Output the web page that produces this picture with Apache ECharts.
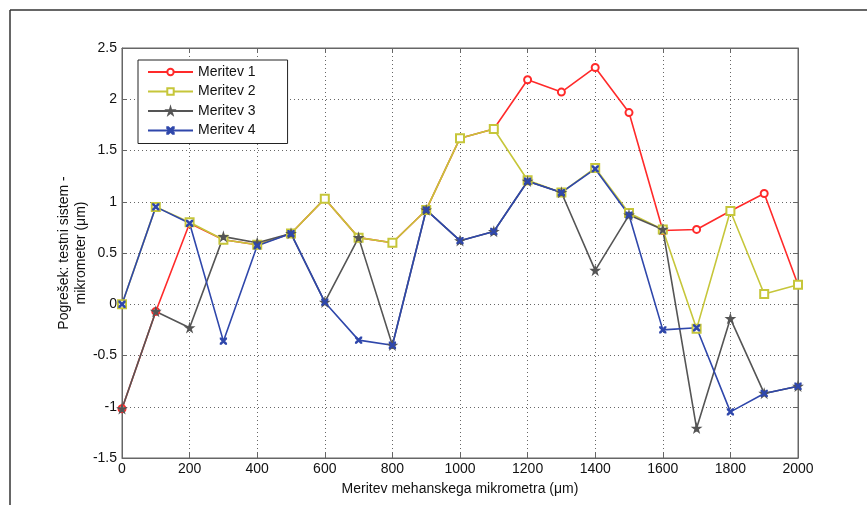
<!DOCTYPE html>
<html><head><meta charset="utf-8">
<script src="https://cdn.jsdelivr.net/npm/echarts@6/dist/echarts.min.js"></script>
<style>html,body{margin:0;padding:0;background:#fff}#c{width:867px;height:505px}</style>
</head><body><div id="c"></div>
<script>
const xVals = [0,100,200,300,400,500,600,700,800,900,1000,1100,1200,1300,1400,1500,1600,1700,1800,1900,2000];
const meritev1 = [-1.02,-0.07,0.79,0.63,0.58,0.69,1.03,0.65,0.60,0.92,1.62,1.71,2.19,2.07,2.31,1.87,0.72,0.73,0.91,1.08,0.19];
const meritev2 = [0.00,0.95,0.80,0.63,0.58,0.69,1.03,0.65,0.60,0.92,1.62,1.71,1.21,1.09,1.33,0.89,0.73,-0.24,0.91,0.10,0.19];
const meritev3 = [-1.02,-0.07,-0.23,0.66,0.60,0.69,0.02,0.65,-0.40,0.92,0.62,0.71,1.20,1.09,0.33,0.87,0.73,-1.21,-0.14,-0.87,-0.80];
const meritev4 = [0.00,0.95,0.79,-0.36,0.57,0.69,0.02,-0.35,-0.40,0.92,0.62,0.71,1.20,1.09,1.32,0.87,-0.25,-0.23,-1.05,-0.87,-0.80];
const seriesNames = ['Meritev 1','Meritev 2','Meritev 3','Meritev 4'];
const xTitle = 'Meritev mehanskega mikrometra (\u03bcm)';
const yTitle = 'Pogrešek: testni sistem -\nmikrometer (\u03bcm)';

const FONT = 'Liberation Sans, Arial, sans-serif';
const colors = ['#ff2a2a','#c6c63a','#555555','#2f47ab'];
const starPath = 'path://M50,0 L61,35 L98,35 L68,57 L79,91 L50,70 L21,91 L32,57 L2,35 L39,35 Z';
const xPath = 'path://M0,0 L3,0 L10,7 L17,0 L20,0 L20,3 L13,10 L20,17 L20,20 L17,20 L10,13 L3,20 L0,20 L0,17 L7,10 L0,3 Z';
const symbols = ['emptyCircle','emptyRect',starPath,xPath];
const sizes = [7,8,8,6];
const allData = [meritev1,meritev2,meritev3,meritev4];

const chart = echarts.init(document.getElementById('c'), null, {renderer:'canvas'});
const axisLineStyle = {color:'#666', width:1};
const plainNum = v => String(v);
const option = {
  animation:false,
  backgroundColor:'#fff',
  textStyle:{fontFamily:FONT},
  grid:{left:122, right:69, top:48, bottom:47, show:true, borderColor:'#666', borderWidth:1},
  legend:{
    orient:'vertical', left:138, top:60,
    padding:[5,32,6,9], itemGap:5.5, itemWidth:45, itemHeight:8,
    backgroundColor:'#fff', borderColor:'#222', borderWidth:1,
    textStyle:{fontFamily:FONT, fontSize:14, color:'#111'},
    data:seriesNames
  },
  xAxis:[{
    type:'value', min:0, max:2000, interval:200,
    name:xTitle, nameLocation:'middle', nameGap:24, nameMoveOverlap:false,
    nameTextStyle:{fontFamily:FONT, fontSize:14, color:'#111'},
    axisLine:{show:true, onZero:false, lineStyle:axisLineStyle},
    axisTick:{show:true, inside:true, length:5, lineStyle:axisLineStyle},
    axisLabel:{fontFamily:FONT, fontSize:14, color:'#111', margin:4, formatter:plainNum},
    splitLine:{show:true, lineStyle:{type:[1,3], color:'#666', width:1}}
  },{
    type:'value', position:'top', min:0, max:2000, interval:200,
    axisLine:{show:true, onZero:false, lineStyle:axisLineStyle},
    axisTick:{show:true, inside:true, length:5, lineStyle:axisLineStyle},
    axisLabel:{show:false}, splitLine:{show:false}
  }],
  yAxis:[{
    type:'value', min:-1.5, max:2.5, interval:0.5,
    name:yTitle, nameLocation:'middle', nameGap:32, nameRotate:90, nameMoveOverlap:false,
    nameTextStyle:{fontFamily:FONT, fontSize:14, color:'#111', lineHeight:17, align:'center'},
    axisLine:{show:true, onZero:false, lineStyle:axisLineStyle},
    axisTick:{show:true, inside:true, length:5, lineStyle:axisLineStyle},
    axisLabel:{fontFamily:FONT, fontSize:14, color:'#111', margin:5, formatter:plainNum},
    splitLine:{show:true, lineStyle:{type:[1,3], color:'#666', width:1}}
  },{
    type:'value', position:'right', min:-1.5, max:2.5, interval:0.5,
    axisLine:{show:true, onZero:false, lineStyle:axisLineStyle},
    axisTick:{show:true, inside:true, length:5, lineStyle:axisLineStyle},
    axisLabel:{show:false}, splitLine:{show:false}
  }],
  graphic:[
    {type:'line', shape:{x1:10,y1:10,x2:867,y2:10}, style:{stroke:'#333', lineWidth:1.5}, silent:true},
    {type:'line', shape:{x1:10,y1:10,x2:10,y2:505}, style:{stroke:'#333', lineWidth:1.5}, silent:true}
  ],
  series: seriesNames.map((n,i)=>({
    name:n, type:'line', xAxisIndex:0, yAxisIndex:0,
    data: xVals.map((x,j)=>[x, allData[i][j]]),
    symbol:symbols[i], symbolSize:sizes[i], showAllSymbol:true,
    lineStyle:{color:colors[i], width:1.6},
    itemStyle:{color:colors[i], borderColor:colors[i], borderWidth:1.3},
    emphasis:{disabled:true}
  }))
};
chart.setOption(option);
</script></body></html>
